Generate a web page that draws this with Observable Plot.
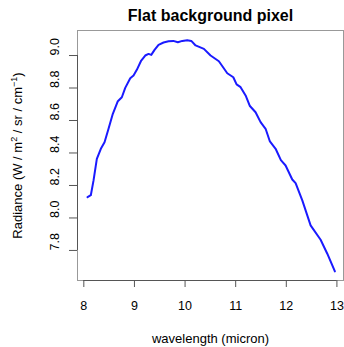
<!DOCTYPE html>
<html>
<head>
<meta charset="utf-8">
<script src="https://cdn.jsdelivr.net/npm/d3@7"></script>
<script src="https://cdn.jsdelivr.net/npm/@observablehq/plot@0.6"></script>
<style>
  html, body { margin: 0; padding: 0; background: #fff; }
  #chart { width: 344px; height: 347px; }
</style>
</head>
<body>
<div id="chart"></div>
<script>
const titleText = "Flat background pixel";
const xTitle = "wavelength (micron)";
const xTicks = [8, 9, 10, 11, 12, 13];
const yTicks = [7.8, 8.0, 8.2, 8.4, 8.6, 8.8, 9.0];
const xDomain = [7.875, 13.13];
const yDomain = [7.615, 9.154];

const wavelength = [8.073, 8.138, 8.192, 8.257, 8.336, 8.409, 8.488, 8.573, 8.672, 8.751,
  8.818, 8.917, 8.982, 9.047, 9.134, 9.213, 9.279, 9.332, 9.397, 9.476,
  9.575, 9.674, 9.767, 9.858, 9.945, 10.043, 10.123, 10.208, 10.372, 10.504,
  10.668, 10.834, 10.953, 11.018, 11.097, 11.196, 11.281, 11.393, 11.492, 11.591,
  11.676, 11.789, 11.893, 11.986, 12.118, 12.184, 12.316, 12.480, 12.678, 12.810, 12.960];
const radiance = [8.128, 8.140, 8.231, 8.364, 8.426, 8.466, 8.549, 8.641, 8.719, 8.743,
  8.801, 8.860, 8.877, 8.912, 8.969, 9.000, 9.010, 9.004, 9.035, 9.066,
  9.080, 9.088, 9.090, 9.082, 9.090, 9.094, 9.090, 9.062, 9.041, 9.000,
  8.965, 8.891, 8.866, 8.822, 8.805, 8.754, 8.689, 8.651, 8.590, 8.549,
  8.471, 8.426, 8.356, 8.323, 8.237, 8.214, 8.108, 7.954, 7.866, 7.780, 7.671];

const data = wavelength.map((w, i) => ({w, r: radiance[i]}));
const font = "'Liberation Sans', Arial, Helvetica, sans-serif";

const plot = Plot.plot({
  width: 344,
  height: 347,
  marginLeft: 77,
  marginTop: 30,
  marginRight: 1,
  marginBottom: 67,
  style: {fontFamily: font, fontSize: "12.5px", background: "#fff", color: "#000"},
  x: {domain: xDomain},
  y: {domain: yDomain},
  marks: [
    Plot.frame({stroke: "#999"}),
    Plot.ruleY([yDomain[0]], {x1: xTicks[0], x2: xTicks[xTicks.length - 1], stroke: "#555"}),
    Plot.ruleX([xDomain[0]], {y1: yTicks[0], y2: yTicks[yTicks.length - 1], stroke: "#555"}),
    Plot.axisX(xTicks, {tickSize: 7, tickPadding: 14, stroke: "#555", fill: "#000", fontSize: 12.5, label: null, tickFormat: d => String(d)}),
    Plot.axisY(yTicks, {tickSize: 8, stroke: "#555", label: null, tickFormat: () => ""}),
    Plot.text(yTicks, {y: d => d, frameAnchor: "left", lineAnchor: "middle", dx: -22.6, rotate: -90, text: d => d.toFixed(1), fontSize: 12.5, fill: "#000"}),
    Plot.line(data, {x: "w", y: "r", stroke: "#1a1aff", strokeWidth: 2}),
    Plot.text([titleText], {frameAnchor: "top", lineAnchor: "middle", dy: -14.4, text: d => d, fontSize: 16, fontWeight: "bold", fill: "#000"}),
    Plot.text([xTitle], {frameAnchor: "bottom", lineAnchor: "middle", dy: 58.8, text: d => d, fontSize: 13, fill: "#000"})
  ]
});
document.getElementById("chart").appendChild(plot);

// y-axis title with real superscripts
const svg = d3.select(plot);
const t = svg.append("text")
  .attr("transform", "translate(21.5,155.5) rotate(-90)")
  .attr("text-anchor", "middle")
  .attr("font-family", font)
  .attr("font-size", 13)
  .attr("fill", "#000");
t.append("tspan").text("Radiance (W / m");
t.append("tspan").attr("font-size", 9).attr("dy", -5).text("2");
t.append("tspan").attr("dy", 5).text(" / sr / cm");
t.append("tspan").attr("font-size", 9).attr("dy", -5).text("\u22121");
t.append("tspan").attr("dy", 5).text(")");
</script>
</body>
</html>
